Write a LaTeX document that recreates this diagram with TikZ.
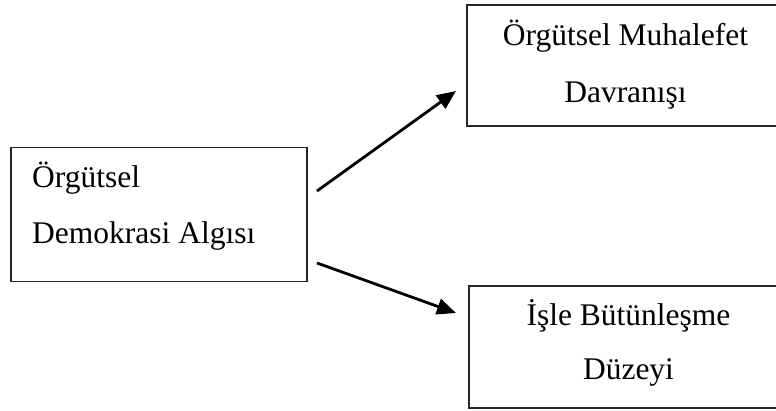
\documentclass[tikz,border=0pt]{standalone}
\usepackage{fontspec}
\setmainfont{Liberation Serif}
\usetikzlibrary{arrows.meta}
\begin{document}
\begin{tikzpicture}[x=1pt,y=-1pt,
  box/.style={draw=black!85, line width=1.4pt, rectangle, inner sep=0pt},
  txt/.style={font=\fontsize{31.5}{40}\selectfont, inner sep=0pt, text=black},
  conn/.style={line width=2.8pt, -{Triangle[length=19pt,width=16pt]}}]
\useasboundingbox (0,0) rectangle (776,410);
\clip (0,0) rectangle (776,410);
% boxes
\node[box, minimum width=296pt, minimum height=134pt] (lb) at (159,214.5) {};
\node[box, minimum width=318pt, minimum height=121pt] (tb) at (626,65.5) {};
\node[box, minimum width=320pt, minimum height=122pt] (bb) at (629,347) {};
% texts
\node[txt, anchor=base west] (l1) at (32,187) {Örgütsel};
\node[txt, anchor=base west] (l2) at (32,243) {Demokrasi Algısı};
\node[txt, anchor=base] (t1) at (625.5,45) {Örgütsel Muhalefet};
\node[txt, anchor=base] (t2) at (625.5,102) {Davranışı};
\node[txt, anchor=base] (b1) at (628.5,325) {İşle Bütünleşme};
\node[txt, anchor=base] (b2) at (628.5,379) {Düzeyi};
% connectors
\coordinate (a1s) at (317,191);
\coordinate (a1e) at (456,91);
\coordinate (a2s) at (317,263);
\coordinate (a2e) at (456,313);
\draw[conn] (a1s) -- (a1e);
\draw[conn] (a2s) -- (a2e);
\end{tikzpicture}
\end{document}
